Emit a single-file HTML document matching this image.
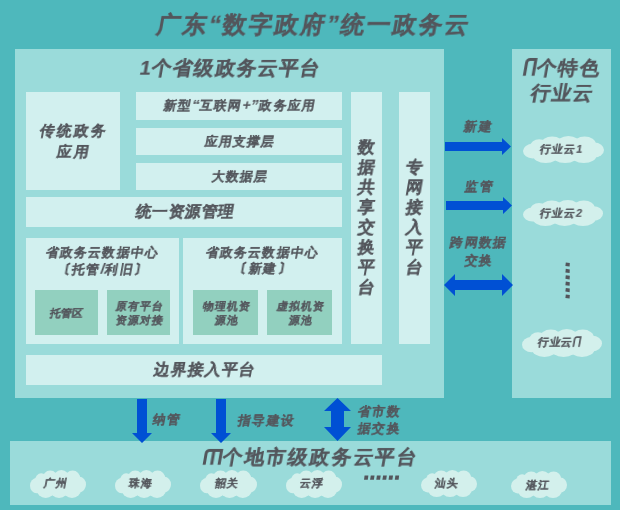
<!DOCTYPE html>
<html><head><meta charset="utf-8">
<style>
*{margin:0;padding:0;box-sizing:border-box}
html,body{width:620px;height:510px;overflow:hidden;background:#4eb8bc}
body{position:relative;font-family:"Liberation Sans",sans-serif;font-weight:bold;color:#53565c}
.r{position:absolute}
.t{position:absolute;white-space:nowrap;line-height:1}
.t>span{display:block;transform:skewX(-10deg);will-change:transform}
.g{display:inline-block}
svg.main{position:absolute;left:0;top:0}
</style></head><body>
<div class="r" style="left:15px;top:49px;width:429px;height:349px;background:#9adbda"></div>
<div class="r" style="left:512px;top:49px;width:99px;height:349px;background:#9adbda"></div>
<div class="r" style="left:10px;top:441px;width:601px;height:64px;background:#9adbda"></div>
<div class="r" style="left:26px;top:92px;width:94px;height:98px;background:#d2f0ef"></div>
<div class="r" style="left:136px;top:92px;width:206px;height:28px;background:#d2f0ef"></div>
<div class="r" style="left:136px;top:128px;width:206px;height:27px;background:#d2f0ef"></div>
<div class="r" style="left:136px;top:163px;width:206px;height:27px;background:#d2f0ef"></div>
<div class="r" style="left:26px;top:197px;width:316px;height:30px;background:#d2f0ef"></div>
<div class="r" style="left:26px;top:238px;width:153px;height:106px;background:#d2f0ef"></div>
<div class="r" style="left:183px;top:238px;width:159px;height:106px;background:#d2f0ef"></div>
<div class="r" style="left:35px;top:290px;width:63px;height:45px;background:#92d0bf"></div>
<div class="r" style="left:107px;top:290px;width:63px;height:45px;background:#92d0bf"></div>
<div class="r" style="left:193px;top:290px;width:65px;height:45px;background:#92d0bf"></div>
<div class="r" style="left:267px;top:290px;width:65px;height:45px;background:#92d0bf"></div>
<div class="r" style="left:351px;top:92px;width:31px;height:252px;background:#d2f0ef"></div>
<div class="r" style="left:399px;top:92px;width:31px;height:252px;background:#d2f0ef"></div>
<div class="r" style="left:26px;top:355px;width:356px;height:30px;background:#d2f0ef"></div>
<svg class="main" width="620" height="510" viewBox="0 0 620 510"><g fill="#0050d4"><polygon points="445,142 502,142 502,138 511,146.5 502,155 502,151 445,151"/><polygon points="446,201 503,201 503,197 512,205.5 503,214 503,210 446,210"/><polygon points="444,285 455,274 455,280 502,280 502,274 513,285 502,296 502,290 455,290 455,296"/><polygon points="137,399 147,399 147,433 152,433 142,443 132,433 137,433"/><polygon points="216,399 226,399 226,433 231,433 221,443 211,433 216,433"/><polygon points="337.5,398 351,411 344,411 344,427 351,427 337.5,441 324,427 331,427 331,411 324,411"/></g><g fill="#d3f0ec"><ellipse cx="563.5" cy="150.0" rx="35.6" ry="10.3"/><ellipse cx="539.2" cy="146.3" rx="8.9" ry="7.0"/><ellipse cx="552.2" cy="144.6" rx="11.3" ry="8.1"/><ellipse cx="568.4" cy="144.6" rx="12.2" ry="8.6"/><ellipse cx="584.6" cy="144.6" rx="11.3" ry="8.1"/><ellipse cx="545.7" cy="154.9" rx="13.0" ry="8.1"/><ellipse cx="565.1" cy="154.4" rx="13.8" ry="8.6"/><ellipse cx="583.8" cy="154.9" rx="13.0" ry="8.1"/><ellipse cx="532.7" cy="151.1" rx="9.7" ry="7.3"/><ellipse cx="594.3" cy="150.0" rx="9.7" ry="7.6"/></g><g fill="#d3f0ec"><ellipse cx="563.0" cy="213.5" rx="35.2" ry="9.9"/><ellipse cx="539.0" cy="209.9" rx="8.8" ry="6.8"/><ellipse cx="551.8" cy="208.3" rx="11.2" ry="7.8"/><ellipse cx="567.8" cy="208.3" rx="12.0" ry="8.3"/><ellipse cx="583.8" cy="208.3" rx="11.2" ry="7.8"/><ellipse cx="545.4" cy="218.2" rx="12.8" ry="7.8"/><ellipse cx="564.6" cy="217.7" rx="13.6" ry="8.3"/><ellipse cx="583.0" cy="218.2" rx="12.8" ry="7.8"/><ellipse cx="532.6" cy="214.6" rx="9.6" ry="7.0"/><ellipse cx="593.4" cy="213.5" rx="9.6" ry="7.3"/></g><g fill="#d3f0ec"><ellipse cx="562.0" cy="343.6" rx="35.2" ry="10.6"/><ellipse cx="538.0" cy="339.6" rx="8.8" ry="7.3"/><ellipse cx="550.8" cy="338.0" rx="11.2" ry="8.4"/><ellipse cx="566.8" cy="338.0" rx="12.0" ry="9.0"/><ellipse cx="582.8" cy="338.0" rx="11.2" ry="8.4"/><ellipse cx="544.4" cy="348.6" rx="12.8" ry="8.4"/><ellipse cx="563.6" cy="348.0" rx="13.6" ry="9.0"/><ellipse cx="582.0" cy="348.6" rx="12.8" ry="8.4"/><ellipse cx="531.6" cy="344.7" rx="9.6" ry="7.6"/><ellipse cx="592.4" cy="343.6" rx="9.6" ry="7.8"/></g><g fill="#d3f0ec"><ellipse cx="58.0" cy="484.6" rx="24.6" ry="10.6"/><ellipse cx="41.2" cy="480.6" rx="6.2" ry="7.3"/><ellipse cx="50.2" cy="479.0" rx="7.8" ry="8.4"/><ellipse cx="61.4" cy="479.0" rx="8.4" ry="9.0"/><ellipse cx="72.6" cy="479.0" rx="7.8" ry="8.4"/><ellipse cx="45.7" cy="489.6" rx="9.0" ry="8.4"/><ellipse cx="59.1" cy="489.0" rx="9.5" ry="9.0"/><ellipse cx="72.0" cy="489.6" rx="9.0" ry="8.4"/><ellipse cx="36.7" cy="485.7" rx="6.7" ry="7.6"/><ellipse cx="79.3" cy="484.6" rx="6.7" ry="7.8"/></g><g fill="#d3f0ec"><ellipse cx="143.0" cy="484.6" rx="24.6" ry="10.6"/><ellipse cx="126.2" cy="480.6" rx="6.2" ry="7.3"/><ellipse cx="135.2" cy="479.0" rx="7.8" ry="8.4"/><ellipse cx="146.4" cy="479.0" rx="8.4" ry="9.0"/><ellipse cx="157.6" cy="479.0" rx="7.8" ry="8.4"/><ellipse cx="130.7" cy="489.6" rx="9.0" ry="8.4"/><ellipse cx="144.1" cy="489.0" rx="9.5" ry="9.0"/><ellipse cx="157.0" cy="489.6" rx="9.0" ry="8.4"/><ellipse cx="121.7" cy="485.7" rx="6.7" ry="7.6"/><ellipse cx="164.3" cy="484.6" rx="6.7" ry="7.8"/></g><g fill="#d3f0ec"><ellipse cx="228.5" cy="484.6" rx="25.1" ry="10.6"/><ellipse cx="211.4" cy="480.6" rx="6.3" ry="7.3"/><ellipse cx="220.5" cy="479.0" rx="8.0" ry="8.4"/><ellipse cx="231.9" cy="479.0" rx="8.5" ry="9.0"/><ellipse cx="243.3" cy="479.0" rx="8.0" ry="8.4"/><ellipse cx="216.0" cy="489.6" rx="9.1" ry="8.4"/><ellipse cx="229.6" cy="489.0" rx="9.7" ry="9.0"/><ellipse cx="242.8" cy="489.6" rx="9.1" ry="8.4"/><ellipse cx="206.8" cy="485.7" rx="6.8" ry="7.6"/><ellipse cx="250.2" cy="484.6" rx="6.8" ry="7.8"/></g><g fill="#d3f0ec"><ellipse cx="314.0" cy="484.6" rx="24.6" ry="10.6"/><ellipse cx="297.2" cy="480.6" rx="6.2" ry="7.3"/><ellipse cx="306.2" cy="479.0" rx="7.8" ry="8.4"/><ellipse cx="317.4" cy="479.0" rx="8.4" ry="9.0"/><ellipse cx="328.6" cy="479.0" rx="7.8" ry="8.4"/><ellipse cx="301.7" cy="489.6" rx="9.0" ry="8.4"/><ellipse cx="315.1" cy="489.0" rx="9.5" ry="9.0"/><ellipse cx="328.0" cy="489.6" rx="9.0" ry="8.4"/><ellipse cx="292.7" cy="485.7" rx="6.7" ry="7.6"/><ellipse cx="335.3" cy="484.6" rx="6.7" ry="7.8"/></g><g fill="#d3f0ec"><ellipse cx="449.0" cy="484.0" rx="24.6" ry="10.3"/><ellipse cx="432.2" cy="480.3" rx="6.2" ry="7.0"/><ellipse cx="441.2" cy="478.6" rx="7.8" ry="8.1"/><ellipse cx="452.4" cy="478.6" rx="8.4" ry="8.6"/><ellipse cx="463.6" cy="478.6" rx="7.8" ry="8.1"/><ellipse cx="436.7" cy="488.9" rx="9.0" ry="8.1"/><ellipse cx="450.1" cy="488.4" rx="9.5" ry="8.6"/><ellipse cx="463.0" cy="488.9" rx="9.0" ry="8.1"/><ellipse cx="427.7" cy="485.1" rx="6.7" ry="7.3"/><ellipse cx="470.3" cy="484.0" rx="6.7" ry="7.6"/></g><g fill="#d3f0ec"><ellipse cx="539.0" cy="485.0" rx="24.6" ry="10.3"/><ellipse cx="522.2" cy="481.3" rx="6.2" ry="7.0"/><ellipse cx="531.2" cy="479.6" rx="7.8" ry="8.1"/><ellipse cx="542.4" cy="479.6" rx="8.4" ry="8.6"/><ellipse cx="553.6" cy="479.6" rx="7.8" ry="8.1"/><ellipse cx="526.7" cy="489.9" rx="9.0" ry="8.1"/><ellipse cx="540.1" cy="489.4" rx="9.5" ry="8.6"/><ellipse cx="553.0" cy="489.9" rx="9.0" ry="8.1"/><ellipse cx="517.7" cy="486.1" rx="6.7" ry="7.3"/><ellipse cx="560.3" cy="485.0" rx="6.7" ry="7.6"/></g><g fill="#53565c"><polygon points="565.8,262.4 569.8,263.0 569.6,266.6 565.4,266.0"/><polygon points="565.8,268.8 569.8,269.4 569.6,273.0 565.4,272.4"/><polygon points="565.8,275.2 569.8,275.8 569.6,279.4 565.4,278.8"/><polygon points="565.8,281.6 569.8,282.2 569.6,285.8 565.4,285.2"/><polygon points="565.8,288.0 569.8,288.6 569.6,292.2 565.4,291.6"/><polygon points="565.8,294.4 569.8,295.0 569.6,298.6 565.4,298.0"/><polygon points="364.6,475.5 368.4,475.5 367.8,479.7 364.0,479.7"/><polygon points="370.8,475.5 374.5,475.5 373.9,479.7 370.1,479.7"/><polygon points="376.9,475.5 380.7,475.5 380.1,479.7 376.3,479.7"/><polygon points="383.1,475.5 386.8,475.5 386.2,479.7 382.4,479.7"/><polygon points="389.2,475.5 393.0,475.5 392.4,479.7 388.6,479.7"/><polygon points="395.4,475.5 399.1,475.5 398.6,479.7 394.8,479.7"/></g></svg>
<div class="t" style="left:4px;top:13px;font-size:24px;-webkit-text-stroke:0.25px #53565c;width:620px;text-align:center;letter-spacing:2px;"><span>广东“数字政府”统一政务云</span></div>
<div class="t" style="left:16px;top:58px;font-size:20px;-webkit-text-stroke:0.2px #53565c;width:429px;text-align:center;letter-spacing:1.1px;"><span>1个省级政务云平台</span></div>
<div class="t" style="left:27px;top:121px;font-size:15px;-webkit-text-stroke:0.15px #53565c;line-height:20.5px;width:94px;text-align:center;letter-spacing:1.8px;"><span>传统政务</span><span>应用</span></div>
<div class="t" style="left:137px;top:98px;font-size:13px;-webkit-text-stroke:0.1px #53565c;width:206px;text-align:center;letter-spacing:1.25px;"><span>新型<span style="font-size:15px;letter-spacing:0.3px;line-height:13px">“</span>互联网<span style="font-size:14px;letter-spacing:0.3px;line-height:13px">+</span><span style="font-size:15px;letter-spacing:0.6px;line-height:13px">”</span>政务应用</span></div>
<div class="t" style="left:137px;top:135px;font-size:13px;-webkit-text-stroke:0.1px #53565c;width:206px;text-align:center;letter-spacing:1.1px;"><span>应用支撑层</span></div>
<div class="t" style="left:137px;top:170px;font-size:13px;-webkit-text-stroke:0.1px #53565c;width:206px;text-align:center;letter-spacing:1.1px;"><span>大数据层</span></div>
<div class="t" style="left:27px;top:204px;font-size:15.5px;-webkit-text-stroke:0.15px #53565c;width:316px;text-align:center;letter-spacing:0.5px;"><span>统一资源管理</span></div>
<div class="t" style="left:25.7px;top:244.5px;font-size:13px;-webkit-text-stroke:0.1px #53565c;line-height:16px;width:153px;text-align:center;letter-spacing:1.2px;"><span>省政务云数据中心</span><span><svg class="g" width="6" height="14" viewBox="0 0 6 14" style="vertical-align:-2px;margin-right:2.4px"><path d="M5.2 1.2L2.6 2.8V11.2L5.2 12.8" fill="none" stroke="#53565c" stroke-width="1.9"/></svg>托管<span style="font-size:15px;letter-spacing:0.5px">/</span>利旧<svg class="g" width="6" height="14" viewBox="0 0 6 14" style="vertical-align:-2px;margin-left:1.4px"><path d="M0.8 1.2L3.4 2.8V11.2L0.8 12.8" fill="none" stroke="#53565c" stroke-width="1.9"/></svg></span></div>
<div class="t" style="left:182.7px;top:244.5px;font-size:13px;-webkit-text-stroke:0.1px #53565c;line-height:16px;width:159px;text-align:center;letter-spacing:1.2px;"><span>省政务云数据中心</span><span><svg class="g" width="6" height="14" viewBox="0 0 6 14" style="vertical-align:-2px;margin-right:2.4px"><path d="M5.2 1.2L2.6 2.8V11.2L5.2 12.8" fill="none" stroke="#53565c" stroke-width="1.9"/></svg>新建<svg class="g" width="6" height="14" viewBox="0 0 6 14" style="vertical-align:-2px;margin-left:1.4px"><path d="M0.8 1.2L3.4 2.8V11.2L0.8 12.8" fill="none" stroke="#53565c" stroke-width="1.9"/></svg></span></div>
<div class="t" style="left:35px;top:307.5px;font-size:11px;-webkit-text-stroke:0.1px #53565c;width:63px;text-align:center;letter-spacing:0.3px;"><span>托管区</span></div>
<div class="t" style="left:108px;top:300px;font-size:11px;-webkit-text-stroke:0.1px #53565c;line-height:13.5px;width:63px;text-align:center;letter-spacing:1px;"><span>原有平台</span><span>资源对接</span></div>
<div class="t" style="left:194px;top:300px;font-size:11px;-webkit-text-stroke:0.1px #53565c;line-height:13.5px;width:65px;text-align:center;letter-spacing:1px;"><span>物理机资</span><span>源池</span></div>
<div class="t" style="left:268px;top:300px;font-size:11px;-webkit-text-stroke:0.1px #53565c;line-height:13.5px;width:65px;text-align:center;letter-spacing:1px;"><span>虚拟机资</span><span>源池</span></div>
<div class="t" style="left:351px;top:138px;font-size:17px;-webkit-text-stroke:0.15px #53565c;line-height:20px;width:31px;text-align:center;"><span>数</span><span>据</span><span>共</span><span>享</span><span>交</span><span>换</span><span>平</span><span>台</span></div>
<div class="t" style="left:399px;top:158px;font-size:17px;-webkit-text-stroke:0.15px #53565c;line-height:20px;width:31px;text-align:center;"><span>专</span><span>网</span><span>接</span><span>入</span><span>平</span><span>台</span></div>
<div class="t" style="left:27px;top:362px;font-size:15.5px;-webkit-text-stroke:0.15px #53565c;width:356px;text-align:center;letter-spacing:0.9px;"><span>边界接入平台</span></div>
<div class="t" style="left:513px;top:55.5px;font-size:19.5px;-webkit-text-stroke:0.15px #53565c;line-height:25px;width:99px;text-align:center;letter-spacing:1.2px;"><span><svg class="g" width="12" height="18" viewBox="0 0 12 18" style="vertical-align:-1px;margin-right:1px"><path d="M1.6 18V4.6Q1.6 1.5 4.7 1.5H10.3V18" fill="none" stroke="#53565c" stroke-width="3"/></svg>个特色</span><span>行业云</span></div>
<div class="t" style="left:11px;top:447px;font-size:20px;-webkit-text-stroke:0.15px #53565c;width:601px;text-align:center;letter-spacing:1.8px;"><span><svg class="g" width="18" height="16" viewBox="0 0 18 16" style="vertical-align:-1px;margin-right:1px"><path d="M1.5 16V4.5Q1.5 1.5 4.5 1.5H16.4V16M8.9 1.5V16" fill="none" stroke="#53565c" stroke-width="3"/></svg>个地市级政务云平台</span></div>
<div class="t" style="left:540px;top:143.5px;font-size:11px;-webkit-text-stroke:0.1px #53565c;letter-spacing:1.1px;"><span>行业云1</span></div>
<div class="t" style="left:539.5px;top:207.5px;font-size:11px;-webkit-text-stroke:0.1px #53565c;letter-spacing:1.0px;"><span>行业云2</span></div>
<div class="t" style="left:537.5px;top:336px;font-size:11px;-webkit-text-stroke:0.1px #53565c;letter-spacing:0.7px;"><span>行业云<svg class="g" width="8" height="11" viewBox="0 0 8 11" style="vertical-align:-1px"><path d="M1.2 11V3Q1.2 1 3.2 1H6.8V11" fill="none" stroke="#53565c" stroke-width="1.7"/></svg></span></div>
<div class="t" style="left:44px;top:478px;font-size:11px;-webkit-text-stroke:0.1px #53565c;letter-spacing:0.6px;"><span>广州</span></div>
<div class="t" style="left:129px;top:478px;font-size:11px;-webkit-text-stroke:0.1px #53565c;letter-spacing:0.6px;"><span>珠海</span></div>
<div class="t" style="left:215px;top:478px;font-size:11px;-webkit-text-stroke:0.1px #53565c;letter-spacing:0.6px;"><span>韶关</span></div>
<div class="t" style="left:300px;top:478px;font-size:11px;-webkit-text-stroke:0.1px #53565c;letter-spacing:0.6px;"><span>云浮</span></div>
<div class="t" style="left:435px;top:478px;font-size:11px;-webkit-text-stroke:0.1px #53565c;letter-spacing:0.6px;"><span>汕头</span></div>
<div class="t" style="left:526px;top:480px;font-size:11px;-webkit-text-stroke:0.1px #53565c;letter-spacing:0.6px;"><span>湛江</span></div>
<div class="t" style="left:463.5px;top:120px;font-size:13px;-webkit-text-stroke:0.1px #53565c;letter-spacing:1.5px;"><span>新建</span></div>
<div class="t" style="left:465px;top:179.5px;font-size:13px;-webkit-text-stroke:0.1px #53565c;letter-spacing:1.5px;"><span>监管</span></div>
<div class="t" style="left:447px;top:234px;font-size:13px;-webkit-text-stroke:0.1px #53565c;line-height:17.5px;width:64px;text-align:center;letter-spacing:1.3px;"><span>跨网数据</span><span>交换</span></div>
<div class="t" style="left:153px;top:413px;font-size:13px;-webkit-text-stroke:0.1px #53565c;letter-spacing:1.3px;"><span>纳管</span></div>
<div class="t" style="left:237.5px;top:414px;font-size:13px;-webkit-text-stroke:0.1px #53565c;letter-spacing:1.3px;"><span>指导建设</span></div>
<div class="t" style="left:358px;top:402.5px;font-size:13px;-webkit-text-stroke:0.1px #53565c;line-height:17px;letter-spacing:1.3px;"><span>省市数</span><span>据交换</span></div>
</body></html>
